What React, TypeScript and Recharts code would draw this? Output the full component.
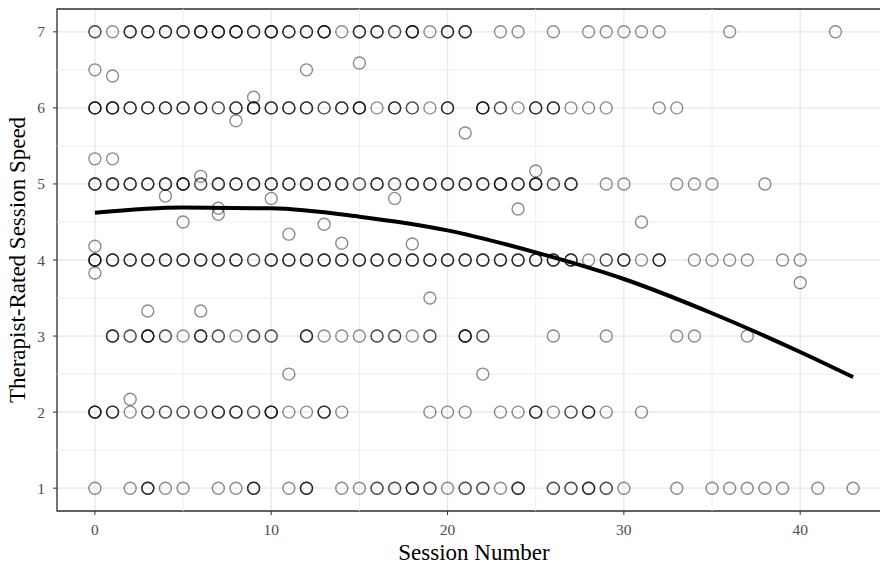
import React from "react";
import {
  ComposedChart,
  Scatter,
  Line,
  XAxis,
  YAxis,
  CartesianGrid,
  ReferenceLine,
  ReferenceArea,
  Label,
} from "recharts";

type Pt = [number, number]; // [session, overlap count]

// Integer ratings: [session number, how many overlapping points]
const row7: Pt[] = [[0,2],[1,1],[2,3],[3,3],[4,3],[5,3],[6,4],[7,4],[8,4],[9,3],[10,4],[11,3],[12,3],[13,4],[14,1],[15,3],[16,3],[17,2],[18,4],[19,1],[20,3],[21,3],[23,1],[24,1],[26,1],[28,1],[29,1],[30,1],[31,1],[32,1],[36,1],[42,1]];
const row6: Pt[] = [[0,4],[1,4],[2,3],[3,3],[4,3],[5,3],[6,3],[7,2],[8,3],[9,4],[10,3],[11,3],[12,3],[13,2],[14,3],[15,4],[16,1],[17,3],[18,2],[19,1],[20,3],[22,4],[23,2],[24,1],[25,3],[26,3],[27,1],[28,1],[29,1],[32,1],[33,1]];
const row5: Pt[] = [[0,3],[1,3],[2,3],[3,3],[4,3],[5,4],[6,2],[7,3],[8,3],[9,3],[10,3],[11,3],[12,3],[13,3],[14,3],[15,2],[16,3],[17,2],[18,3],[19,3],[20,3],[21,3],[22,3],[23,4],[24,3],[25,4],[26,2],[27,3],[29,1],[30,1],[33,1],[34,1],[35,1],[38,1]];
const row4: Pt[] = [[0,4],[1,3],[2,3],[3,3],[4,3],[5,3],[6,3],[7,3],[8,3],[9,2],[10,3],[11,3],[12,3],[13,3],[14,3],[15,3],[16,3],[17,3],[18,3],[19,3],[20,3],[21,3],[22,3],[23,3],[24,3],[25,3],[26,3],[27,3],[28,1],[29,2],[30,3],[31,1],[32,3],[34,1],[35,1],[36,1],[37,1],[39,1],[40,1]];
const row3: Pt[] = [[1,3],[2,2],[3,4],[4,2],[5,1],[6,3],[7,2],[8,1],[9,2],[10,2],[12,3],[13,1],[14,1],[15,1],[16,2],[17,2],[18,1],[19,2],[21,4],[22,2],[26,1],[29,1],[33,1],[34,1],[37,1]];
const row2: Pt[] = [[0,4],[1,3],[2,1],[3,2],[4,2],[5,2],[6,2],[7,3],[8,3],[9,2],[10,4],[11,1],[12,1],[13,3],[14,1],[19,1],[20,1],[21,1],[23,1],[24,1],[25,3],[26,1],[27,2],[28,3],[29,1],[31,1]];
const row1: Pt[] = [[0,1],[2,1],[3,3],[4,1],[5,1],[7,1],[8,1],[9,3],[11,1],[12,3],[14,1],[15,1],[16,2],[17,2],[18,3],[19,2],[20,1],[21,2],[22,2],[23,1],[24,3],[26,2],[27,2],[28,3],[29,2],[30,1],[33,1],[35,1],[36,1],[37,1],[38,1],[39,1],[41,1],[43,1]];

// Averaged (non-integer) ratings: [session, speed]
const offRow: Pt[] = [[0,6.5],[1,6.42],[12,6.5],[15,6.59],[9,6.14],[8,5.83],[21,5.67],[0,5.33],[1,5.33],[6,5.1],[25,5.17],[4,4.84],[10,4.81],[17,4.81],[7,4.68],[7,4.6],[5,4.5],[13,4.47],[24,4.67],[31,4.5],[11,4.34],[14,4.22],[18,4.21],[0,4.18],[0,3.83],[40,3.7],[19,3.5],[3,3.33],[6,3.33],[11,2.5],[22,2.5],[2,2.17]];

// Fitted curve
const curveX = [0, 5, 10, 15, 20, 25, 30, 35, 40, 43];
const curveY = [4.62, 4.69, 4.68, 4.57, 4.39, 4.1, 3.75, 3.3, 2.79, 2.46];

const xTicks = [0, 10, 20, 30, 40];
const yTicks = [1, 2, 3, 4, 5, 6, 7];
const xMinor = [5, 15, 25, 35, 45];
const yMinor = [1.5, 2.5, 3.5, 4.5, 5.5, 6.5];
const xDomain: [number, number] = [-2.15, 45.15];
const yDomain: [number, number] = [0.7, 7.3];

const rows: [number, Pt[]][] = [
  [7, row7], [6, row6], [5, row5], [4, row4], [3, row3], [2, row2], [1, row1],
];

const points: { x: number; y: number }[] = [];
rows.forEach(([yv, list]) => {
  list.forEach(([xv, n]) => {
    for (let i = 0; i < n; i++) points.push({ x: xv, y: yv });
  });
});
offRow.forEach(([xv, yv]) => points.push({ x: xv, y: yv }));

const curve = curveX.map((x, i) => ({ x, y: curveY[i] }));

const FONT = "'Liberation Serif', 'Times New Roman', serif";

const ring = (p: any) => (
  <circle
    cx={p.cx}
    cy={p.cy}
    r={6}
    fill="none"
    stroke="#000"
    strokeOpacity={0.45}
    strokeWidth={1.4}
  />
);

export default function App() {
  return (
    <div
      style={{
        position: "absolute",
        left: 0,
        top: 0,
        width: 880,
        height: 565,
        overflow: "hidden",
        background: "#fff",
      }}
    >
      <ComposedChart
        width={900}
        height={565}
        margin={{ top: 9, right: 9, bottom: 0, left: 0 }}
      >
        <CartesianGrid stroke="#e8e8e8" strokeWidth={1.3} />
        {xMinor.map((v) => (
          <ReferenceLine key={"mx" + v} x={v} stroke="#ededed" strokeWidth={1} />
        ))}
        {yMinor.map((v) => (
          <ReferenceLine key={"my" + v} y={v} stroke="#ededed" strokeWidth={1} />
        ))}
        <XAxis
          type="number"
          dataKey="x"
          domain={xDomain}
          allowDataOverflow
          ticks={xTicks}
          height={54}
          tickSize={4}
          tickMargin={9}
          axisLine={false}
          tickLine={{ stroke: "#333" }}
          tick={{ fill: "#4d4d4d", fontSize: 15.5, fontFamily: FONT }}
        >
          <Label
            value="Session Number"
            position="insideBottom"
            offset={5}
            style={{ fill: "#000", fontSize: 23, fontFamily: FONT }}
          />
        </XAxis>
        <YAxis
          type="number"
          dataKey="y"
          domain={yDomain}
          allowDataOverflow
          ticks={yTicks}
          width={57}
          tickSize={4}
          tickMargin={8}
          axisLine={false}
          tickLine={{ stroke: "#333" }}
          tick={{ fill: "#4d4d4d", fontSize: 15.5, fontFamily: FONT }}
        >
          <Label
            value="Therapist-Rated Session Speed"
            position="center"
            angle={-90}
            dx={-12}
            style={{ fill: "#000", fontSize: 23, fontFamily: FONT, textAnchor: "middle" }}
          />
        </YAxis>
        <Scatter
          data={points}
          dataKey="y"
          shape={ring}
          isAnimationActive={false}
        />
        <Line
          data={curve}
          dataKey="y"
          type="monotone"
          dot={false}
          activeDot={false}
          stroke="#000"
          strokeWidth={4}
          isAnimationActive={false}
        />
        <ReferenceArea
          x1={xDomain[0]}
          x2={xDomain[1]}
          y1={yDomain[0]}
          y2={yDomain[1]}
          fill="none"
          fillOpacity={0}
          stroke="#333"
          strokeWidth={1.3}
          ifOverflow="visible"
        />
      </ComposedChart>
    </div>
  );
}
